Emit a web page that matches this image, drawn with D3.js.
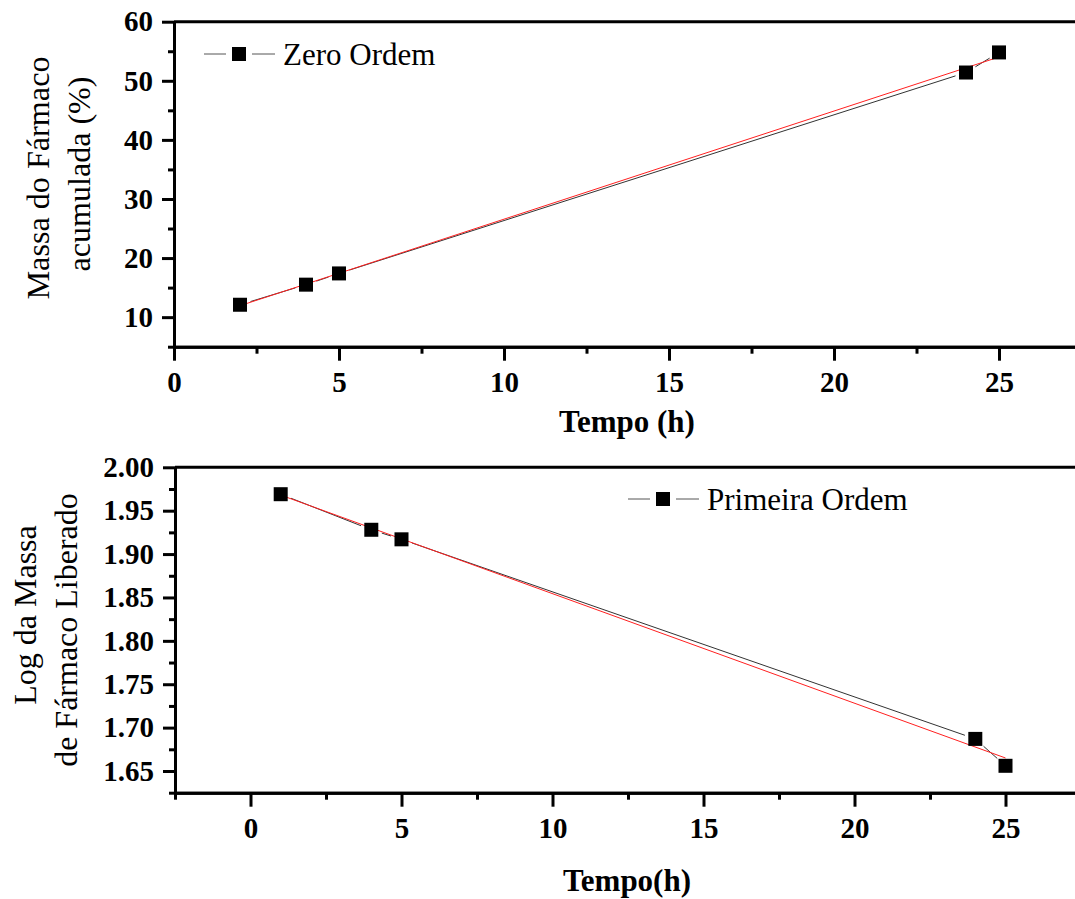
<!DOCTYPE html>
<html lang="pt">
<head>
  <meta charset="UTF-8" />
  <title>Cinética de liberação - Zero Ordem / Primeira Ordem</title>
  <script src="https://cdn.jsdelivr.net/npm/d3@7"></script>
  <style>
    html, body {
      margin: 0;
      padding: 0;
      background: #fff;
    }
    svg {
      display: block;
      font-family: "Liberation Serif", "Times New Roman", serif;
    }
    .axis path, .axis line {
      stroke: #000;
      stroke-width: 3;
    }
  </style>
</head>
<body>
  <script>
    // ---- data ----
    const zeroTime = [2, 4, 5, 24, 25];
    const zeroMass = [12.1, 15.5, 17.4, 51.4, 54.8];
    const zeroFitTime = [2, 25];
    const zeroFitMass = [11.94, 54.03];

    const firstTime = [1, 4, 5, 24, 25];
    const firstLog = [1.969, 1.928, 1.917, 1.687, 1.656];
    const firstFitTime = [1, 25];
    const firstFitLog = [1.968, 1.665];

    const timeTicks = [0, 5, 10, 15, 20, 25];
    const timeMinor = [-2.5, 2.5, 7.5, 12.5, 17.5, 22.5, 27.5];
    const massTicks = [10, 20, 30, 40, 50, 60];
    const massMinor = [5, 15, 25, 35, 45, 55];
    const logTicks = [1.65, 1.70, 1.75, 1.80, 1.85, 1.90, 1.95, 2.00];
    const logMinor = [1.625, 1.675, 1.725, 1.775, 1.825, 1.875, 1.925, 1.975];

    const serif = '"Liberation Serif", "Times New Roman", serif';
    const width = 1075, height = 899;
    const svg = d3.select("body").append("svg")
      .attr("width", width)
      .attr("height", height);

    svg.append("rect").attr("width", width).attr("height", height).attr("fill", "#fff");

    // draws the connecting line with a gap round each symbol, like Origin does
    function gappedLine(g, xs, ys, x, y, gap, color) {
      for (let i = 0; i < xs.length - 1; i++) {
        const x1 = x(xs[i]), y1 = y(ys[i]), x2 = x(xs[i + 1]), y2 = y(ys[i + 1]);
        const len = Math.hypot(x2 - x1, y2 - y1);
        if (len <= 2 * gap) continue;
        const ux = (x2 - x1) / len, uy = (y2 - y1) / len;
        g.append("line")
          .attr("x1", x1 + ux * gap).attr("y1", y1 + uy * gap)
          .attr("x2", x2 - ux * gap).attr("y2", y2 - uy * gap)
          .attr("stroke", color)
          .attr("stroke-width", 1);
      }
    }

    // bold serif tick labels
    function styleAxis(sel) {
      sel.attr("font-family", serif).attr("font-size", 29);
      sel.selectAll("text")
        .attr("font-family", serif)
        .attr("font-weight", "bold")
        .attr("fill", "#000");
    }

    function panel(opt) {
      const { x, y, xTicks, xMinor, yTicks, yMinor, yFormat } = opt;
      const g = svg.append("g");
      const [x0, x1] = x.range();
      const [yb, yt] = y.range();

      // frame top line
      g.append("line")
        .attr("x1", x0).attr("x2", x1)
        .attr("y1", yt).attr("y2", yt)
        .attr("stroke", "#000").attr("stroke-width", 3);

      // minor ticks first, then major axes
      g.append("g").attr("class", "axis")
        .attr("transform", `translate(0,${yb})`)
        .call(d3.axisBottom(x).tickValues(xMinor).tickSize(7).tickSizeOuter(0).tickFormat(""));
      g.append("g").attr("class", "axis")
        .attr("transform", `translate(0,${yb})`)
        .call(d3.axisBottom(x).tickValues(xTicks).tickSize(14).tickSizeOuter(0).tickPadding(11))
        .call(styleAxis);

      g.append("g").attr("class", "axis")
        .attr("transform", `translate(${x0},0)`)
        .call(d3.axisLeft(y).tickValues(yMinor).tickSize(6).tickSizeOuter(0).tickFormat(""));
      g.append("g").attr("class", "axis")
        .attr("transform", `translate(${x0},0)`)
        .call(d3.axisLeft(y).tickValues(yTicks).tickSize(12).tickSizeOuter(0).tickPadding(9)
          .tickFormat(yFormat))
        .call(styleAxis);

      // data line (gapped), fit line, symbols
      gappedLine(g, opt.dataX, opt.dataY, x, y, 11, "#333");

      const line = d3.line().x(d => x(d[0])).y(d => y(d[1]));
      g.append("path")
        .datum(opt.fitX.map((v, i) => [v, opt.fitY[i]]))
        .attr("d", line)
        .attr("fill", "none")
        .attr("stroke", "#ff2020")
        .attr("stroke-width", 1);

      g.selectAll("rect.pt")
        .data(opt.dataX.map((v, i) => [v, opt.dataY[i]]))
        .join("rect")
        .attr("class", "pt")
        .attr("x", d => x(d[0]) - 7)
        .attr("y", d => y(d[1]) - 7)
        .attr("width", 14)
        .attr("height", 14)
        .attr("fill", "#000");

      // legend
      const lg = g.append("g").attr("transform", `translate(${opt.legend[0]},${opt.legend[1]})`);
      lg.append("line").attr("x1", -35).attr("x2", -13).attr("y1", 0).attr("y2", 0)
        .attr("stroke", "#555").attr("stroke-width", 1);
      lg.append("line").attr("x1", 13).attr("x2", 36).attr("y1", 0).attr("y2", 0)
        .attr("stroke", "#555").attr("stroke-width", 1);
      lg.append("rect").attr("x", -7).attr("y", -7).attr("width", 14).attr("height", 14).attr("fill", "#000");
      lg.append("text")
        .attr("x", 44).attr("y", 11)
        .attr("font-size", 31)
        .text(opt.legendText);

      // x title
      g.append("text")
        .attr("x", opt.xTitlePos[0]).attr("y", opt.xTitlePos[1])
        .attr("text-anchor", "middle")
        .attr("font-size", 31)
        .attr("font-weight", "bold")
        .text(opt.xTitle);

      // y title, two lines
      opt.yTitle.forEach((t, i) => {
        const txt = g.append("text")
          .attr("transform", `translate(${opt.yTitleX[i]},${opt.yTitleY[i]}) rotate(-90)`)
          .attr("text-anchor", "middle")
          .attr("font-size", 32)
          .text(t);
        if (opt.yTitleLen) {
          txt.attr("textLength", opt.yTitleLen[i]).attr("lengthAdjust", "spacingAndGlyphs");
        }
      });
    }

    // top panel: zero order
    panel({
      x: d3.scaleLinear().domain([0, 27.5]).range([174, 174 + 27.5 * 33]),
      y: d3.scaleLinear().domain([5, 60]).range([346.7, 21.7]),
      xTicks: timeTicks, xMinor: timeMinor.filter(v => v > 0),
      yTicks: massTicks, yMinor: massMinor,
      yFormat: d3.format("d"),
      dataX: zeroTime, dataY: zeroMass,
      fitX: zeroFitTime, fitY: zeroFitMass,
      legend: [239, 54], legendText: "Zero Ordem",
      xTitle: "Tempo (h)", xTitlePos: [627, 432],
      yTitle: ["Massa do Fármaco", "acumulada (%)"],
      yTitleX: [49, 90], yTitleY: [178, 174], yTitleLen: [243, 195]
    });

    // bottom panel: first order
    panel({
      x: d3.scaleLinear().domain([-2.5, 27.5]).range([175, 175 + 30 * 30.2]),
      y: d3.scaleLinear().domain([1.625, 2.0]).range([792.7, 467.3]),
      xTicks: timeTicks, xMinor: timeMinor,
      yTicks: logTicks, yMinor: logMinor,
      yFormat: d3.format(".2f"),
      dataX: firstTime, dataY: firstLog,
      fitX: firstFitTime, fitY: firstFitLog,
      legend: [663, 499], legendText: "Primeira Ordem",
      xTitle: "Tempo(h)", xTitlePos: [627, 891],
      yTitle: ["Log da Massa", "de Fármaco Liberado"],
      yTitleX: [36, 77], yTitleY: [615, 630]
    });
  </script>
</body>
</html>
